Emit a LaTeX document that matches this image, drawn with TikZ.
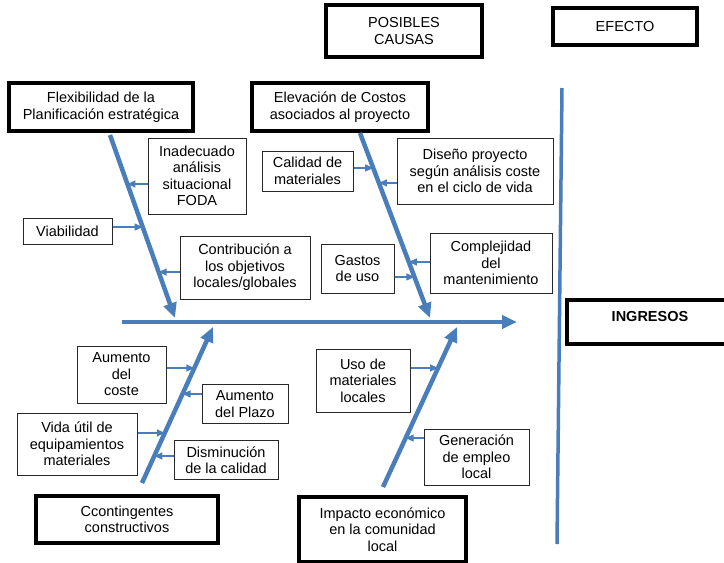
\documentclass[tikz,border=0pt]{standalone}
\usepackage{fontspec}
\setmainfont{Liberation Sans}
\usetikzlibrary{arrows.meta}
\definecolor{bone}{RGB}{74,126,187}
\definecolor{thinframe}{RGB}{40,40,40}
\begin{document}
\begin{tikzpicture}[x=1pt,y=-1pt,
  every node/.style={font=\fontsize{14.5}{16.5}\selectfont, align=center, inner sep=0pt},
  mainbox/.style={draw=black, line width=3.5pt, minimum width=#1},
  causebox/.style={draw=thinframe, line width=1pt},
  spine/.style={draw=bone, line width=4.5pt, -{Triangle[length=15pt,width=13pt]}},
  twig/.style={draw=bone, line width=1.2pt, -{Triangle[length=8pt,width=7pt]}},
  axis/.style={draw=bone, line width=3.5pt}]
\useasboundingbox (0,0) rectangle (724,563);

% header boxes
\node[mainbox=156pt, minimum height=52pt] (causas) at (404,31) {POSIBLES\\CAUSAS};
\node[mainbox=144pt, minimum height=37pt] (efecto) at (625,26.5) {EFECTO};

% effect line and effect box
\coordinate (ax1) at (562,88);
\coordinate (ax2) at (557,544);
\draw[axis] (ax1) -- (ax2);
\begin{scope}
\clip (0,0) rectangle (724,563);
\node[mainbox=166pt, minimum height=44pt] (ingresos) at (650,322) {};
\end{scope}
\node[font=\fontsize{14.5}{16.5}\selectfont\bfseries] (ingtext) at (650,317) {INGRESOS};

% category boxes
\node[mainbox=184pt, minimum height=48pt] (flex) at (101,107) {Flexibilidad de la\\Planificación estratégica};
\node[mainbox=176pt, minimum height=48pt] (elev) at (340,107) {Elevación de Costos\\asociados al proyecto};
\node[mainbox=182pt, minimum height=47pt] (cont) at (127,519.5) {Ccontingentes\\constructivos};
\node[mainbox=167pt, minimum height=65pt] (impa) at (382.5,529.5) {Impacto económico\\en la comunidad\\local};

% main spine
\coordinate (m1) at (122,322);
\coordinate (m2) at (517,322);
\draw[spine] (m1) -- (m2);

% branch spines
\coordinate (fa) at (110,135);  \coordinate (fb) at (175,318);
\coordinate (ea) at (360,133);  \coordinate (eb) at (430,318);
\coordinate (ca) at (142,483);  \coordinate (cb) at (213,327);
\coordinate (ia) at (383,487);  \coordinate (ib) at (457,327);
\draw[spine] (fa) -- (fb);
\draw[spine] (ea) -- (eb);
\draw[spine] (ca) -- (cb);
\draw[spine] (ia) -- (ib);

% points on the branches where the causes attach
\path (fa) -- (fb) coordinate[pos=0.268] (f1) coordinate[pos=0.503] (f2) coordinate[pos=0.749] (f3);
\path (ea) -- (eb) coordinate[pos=0.189] (e1) coordinate[pos=0.270] (e2) coordinate[pos=0.697] (e3) coordinate[pos=0.778] (e4);
\path (ca) -- (cb) coordinate[pos=0.737] (c1) coordinate[pos=0.571] (c2) coordinate[pos=0.321] (c3) coordinate[pos=0.173] (c4);
\path (ia) -- (ib) coordinate[pos=0.744] (i1) coordinate[pos=0.306] (i2);

% cause boxes
\node[causebox, minimum width=98pt, minimum height=76pt] (foda) at (197,176) {Inadecuado\\análisis\\situacional\\FODA};
\node[causebox, minimum width=89pt, minimum height=26pt] (viab) at (67.5,231) {Viabilidad};
\node[causebox, minimum width=130pt, minimum height=63pt] (contr) at (245,267.5) {Contribución a\\los objetivos\\locales/globales};
\node[causebox, minimum width=91pt, minimum height=40pt] (calid) at (307.5,171) {Calidad de\\materiales};
\node[causebox, minimum width=156pt, minimum height=66pt] (disen) at (475,171) {Diseño proyecto\\según análisis coste\\en el ciclo de vida};
\node[causebox, minimum width=73pt, minimum height=49pt] (gast) at (357.5,268.5) {Gastos\\de uso};
\node[causebox, minimum width=122pt, minimum height=60pt] (compl) at (491,263) {Complejidad\\del\\mantenimiento};
\node[causebox, minimum width=89pt, minimum height=57pt] (coste) at (121.5,374.5) {Aumento\\del\\coste};
\node[causebox, minimum width=86pt, minimum height=39pt] (plazo) at (245,404) {Aumento\\del Plazo};
\node[causebox, minimum width=120pt, minimum height=62pt] (vida) at (77,444) {Vida útil de\\equipamientos\\materiales};
\node[causebox, minimum width=104pt, minimum height=39pt] (dism) at (226,460) {Disminución\\de la calidad};
\node[causebox, minimum width=94pt, minimum height=63pt] (uso) at (363,380.5) {Uso de\\materiales\\locales};
\node[causebox, minimum width=105pt, minimum height=56pt] (gene) at (476.5,457) {Generación\\de empleo\\local};

% cause arrows
\draw[twig] (foda.west |- f1) -- (f1);
\draw[twig] (viab.east |- f2) -- (f2);
\draw[twig] (contr.west |- f3) -- (f3);
\draw[twig] (calid.east |- e1) -- (e1);
\draw[twig] (disen.west |- e2) -- (e2);
\draw[twig] (compl.west |- e3) -- (e3);
\draw[twig] (gast.east |- e4) -- (e4);
\draw[twig] (coste.east |- c1) -- (c1);
\draw[twig] (plazo.west |- c2) -- (c2);
\draw[twig] (vida.east |- c3) -- (c3);
\draw[twig] (dism.west |- c4) -- (c4);
\draw[twig] (uso.east |- i1) -- (i1);
\draw[twig] (gene.west |- i2) -- (i2);
\end{tikzpicture}
\end{document}
